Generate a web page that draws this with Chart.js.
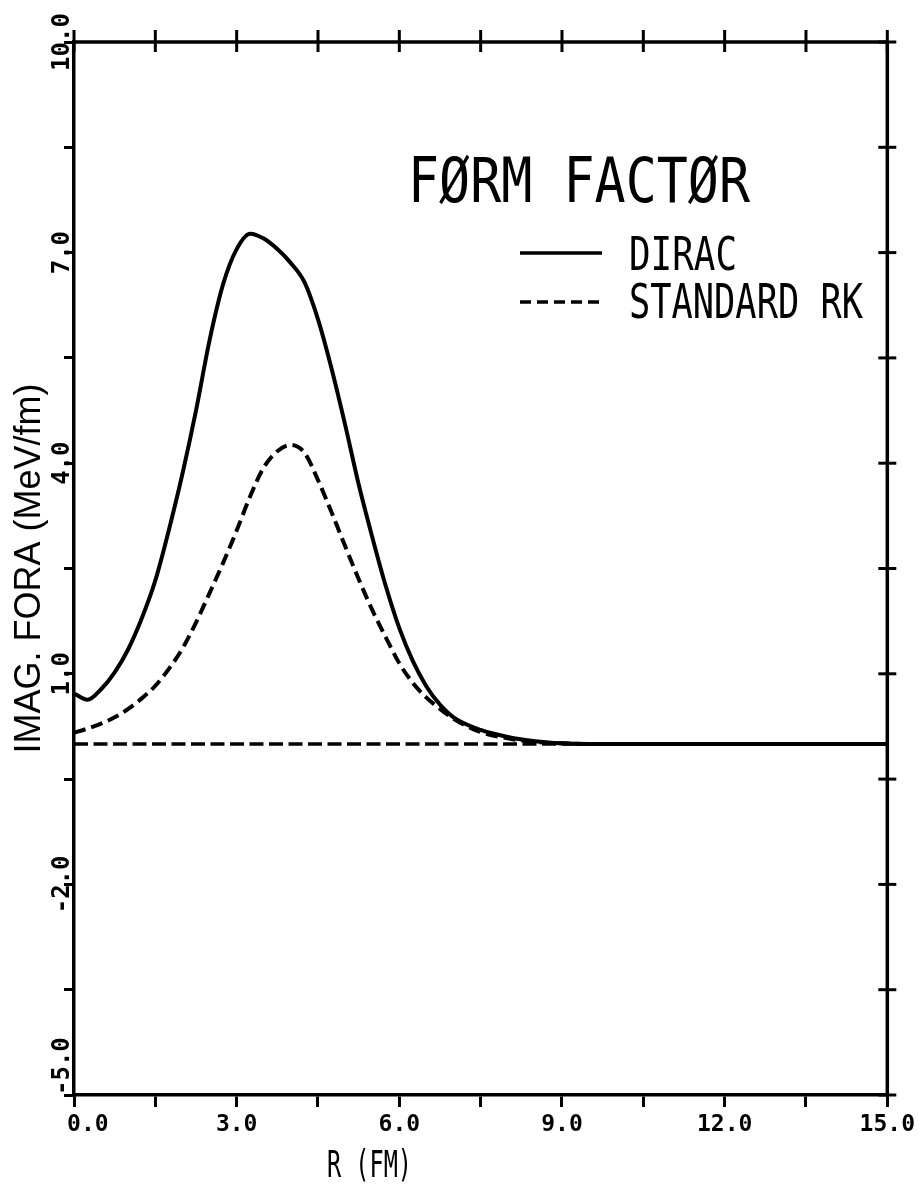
<!DOCTYPE html>
<html>
<head>
<meta charset="utf-8">
<title>Form factor</title>
<script src="https://cdn.jsdelivr.net/npm/chart.js@4.4.1/dist/chart.umd.min.js"></script>
<style>
  html, body { margin: 0; padding: 0; background: #fff; }
</style>
</head>
<body>
<canvas id="formChart" width="919" height="1184"></canvas>
<script>
// values, R in fm
const rValues = [0, 0.25, 0.5, 0.75, 1, 1.25, 1.5, 1.75, 2, 2.25, 2.5, 2.75, 3, 3.25, 3.5, 3.75, 4, 4.25, 4.5, 4.75,
                 5, 5.25, 5.5, 5.75, 6, 6.25, 6.5, 6.75, 7, 7.5, 8, 8.5, 9, 9.5, 10, 11, 12, 13, 14, 15];
const diracValues = [0.72, 0.63, 0.78, 1.02, 1.35, 1.79, 2.33, 3.05, 3.85, 4.75, 5.75, 6.55, 7.05, 7.27, 7.2, 7.05, 6.85, 6.58, 6.05, 5.35,
                     4.55, 3.7, 2.95, 2.25, 1.65, 1.18, 0.82, 0.56, 0.38, 0.2, 0.1, 0.04, 0.01, 0, 0, 0, 0, 0, 0, 0];
const standardRkValues = [0.16, 0.22, 0.29, 0.38, 0.5, 0.65, 0.83, 1.07, 1.36, 1.73, 2.15, 2.58, 3.04, 3.53, 3.94, 4.17, 4.26, 4.15, 3.76, 3.3,
                          2.82, 2.35, 1.91, 1.52, 1.15, 0.87, 0.66, 0.5, 0.36, 0.17, 0.08, 0.03, 0.01, 0, 0, 0, 0, 0, 0, 0];
const zeroLineR = [0, 15];
const zeroLineValues = [0, 0];

const xLabelValues = [0, 3, 6, 9, 12, 15];
const xTickLabels = ['  0.0', '3.0', '6.0', '9.0', '12.0', '15.0'];
const yLabelValues = [-5, -2, 1, 4, 7, 10];
const yTickLabels = ['-5.0', '-2.0', '1.0', '4.0', '7.0', '10.0'];

const toPoints = (xs, ys) => xs.map((x, i) => ({ x: x, y: ys[i] }));
const findLabel = (vals, labels, v) => {
    const i = vals.findIndex(a => Math.abs(a - v) < 1e-6);
    return i < 0 ? '' : labels[i];
};

// text in the old plotter lettering is narrow, so squeeze it to the measured width
function drawNarrow(ctx, text, left, baseline, size, width) {
    ctx.save();
    ctx.font = size + 'px "DejaVu Sans Mono"';
    const w = ctx.measureText(text).width;
    ctx.translate(left, baseline);
    ctx.scale(width / w, 1);
    ctx.textAlign = 'left';
    ctx.textBaseline = 'alphabetic';
    ctx.fillText(text, 0, 0);
    ctx.restore();
}

const framePlugin = {
    id: 'frame',
    afterDraw(chart) {
        const { ctx, chartArea: a, scales: { x, y } } = chart;
        ctx.save();
        ctx.strokeStyle = '#000';
        ctx.fillStyle = '#000';

        // top + right side of the box, ticks crossing the line
        ctx.lineWidth = 3.5;
        ctx.beginPath();
        ctx.moveTo(a.left - 2, a.top);
        ctx.lineTo(a.right, a.top);
        ctx.lineTo(a.right, a.bottom + 2);
        ctx.stroke();
        ctx.lineWidth = 3;
        x.ticks.forEach(t => {
            const px = x.getPixelForValue(t.value);
            ctx.beginPath();
            ctx.moveTo(px, a.top - 12);
            ctx.lineTo(px, a.top + 10);
            ctx.stroke();
        });
        y.ticks.forEach(t => {
            const py = y.getPixelForValue(t.value);
            ctx.beginPath();
            ctx.moveTo(a.right - 9, py);
            ctx.lineTo(a.right + 9, py);
            ctx.stroke();
        });

        // rotated y tick labels; the bottom one is pushed up so it ends at its tick
        ctx.font = 'bold 24px "DejaVu Sans Mono"';
        ctx.textBaseline = 'middle';
        yLabelValues.forEach((v, i) => {
            const py = y.getPixelForValue(v);
            ctx.save();
            ctx.translate(a.left - 11, py);
            ctx.rotate(-Math.PI / 2);
            ctx.textAlign = py >= a.bottom - 1 ? 'left' : 'center';
            ctx.fillText(yTickLabels[i], 0, 0);
            ctx.restore();
        });

        // title and legend inside the box
        drawNarrow(ctx, 'FØRM FACTØR', 408, 202, 62, 342);
        drawNarrow(ctx, 'DIRAC', 629, 270, 46, 108);
        drawNarrow(ctx, 'STANDARD RK', 629, 318, 48, 234);
        ctx.lineWidth = 3.5;
        ctx.beginPath();
        ctx.moveTo(520, 253);
        ctx.lineTo(602, 253);
        ctx.stroke();
        ctx.setLineDash([11, 6]);
        ctx.beginPath();
        ctx.moveTo(520, 302);
        ctx.lineTo(602, 302);
        ctx.stroke();
        ctx.setLineDash([]);

        // x axis title sits left of centre in the original
        drawNarrow(ctx, 'R (FM)', 327, 1177, 37, 85);
        ctx.restore();
    }
};

const ctx = document.getElementById('formChart').getContext('2d');
const chart = new Chart(ctx, {
    type: 'line',
    data: {
        datasets: [{
            label: 'DIRAC',
            data: toPoints(rValues, diracValues),
            borderColor: '#000',
            borderWidth: 4,
            cubicInterpolationMode: 'monotone',
            pointRadius: 0,
            fill: false
        }, {
            label: 'STANDARD RK',
            data: toPoints(rValues, standardRkValues),
            borderColor: '#000',
            borderWidth: 4,
            borderDash: [12, 6],
            cubicInterpolationMode: 'monotone',
            pointRadius: 0,
            fill: false
        }, {
            label: 'zero',
            data: toPoints(zeroLineR, zeroLineValues),
            borderColor: '#000',
            borderWidth: 3.5,
            borderDash: [14, 5.5],
            pointRadius: 0,
            fill: false
        }]
    },
    options: {
        responsive: false,
        animation: false,
        devicePixelRatio: 1,
        layout: {
            padding: { top: 42, right: 29, left: 0, bottom: 0 }
        },
        plugins: {
            legend: { display: false },
            tooltip: { enabled: false }
        },
        scales: {
            x: {
                type: 'linear',
                min: 0,
                max: 15,
                afterFit: s => { s.height = 89; },
                border: { display: true, color: '#000', width: 3.5 },
                grid: {
                    drawOnChartArea: false,
                    drawTicks: true,
                    tickLength: 12,
                    color: '#000',
                    lineWidth: 3
                },
                ticks: {
                    stepSize: 1.5,
                    autoSkip: false,
                    maxRotation: 0,
                    padding: 4,
                    color: '#000',
                    font: { family: 'DejaVu Sans Mono', size: 23, weight: 'bold' },
                    callback: v => findLabel(xLabelValues, xTickLabels, v)
                }
            },
            y: {
                min: -5,
                max: 10,
                afterFit: s => { s.width = 74; },
                border: { display: true, color: '#000', width: 3.5 },
                grid: {
                    drawOnChartArea: false,
                    drawTicks: true,
                    tickLength: 10,
                    color: '#000',
                    lineWidth: 3
                },
                ticks: {
                    stepSize: 1.5,
                    display: false
                },
                title: {
                    display: true,
                    text: 'IMAG. FORA (MeV/fm)',
                    color: '#000',
                    font: { family: 'Liberation Sans', size: 36 },
                    padding: { top: 8, bottom: 0 }
                }
            }
        }
    },
    plugins: [framePlugin]
});
</script>
</body>
</html>
